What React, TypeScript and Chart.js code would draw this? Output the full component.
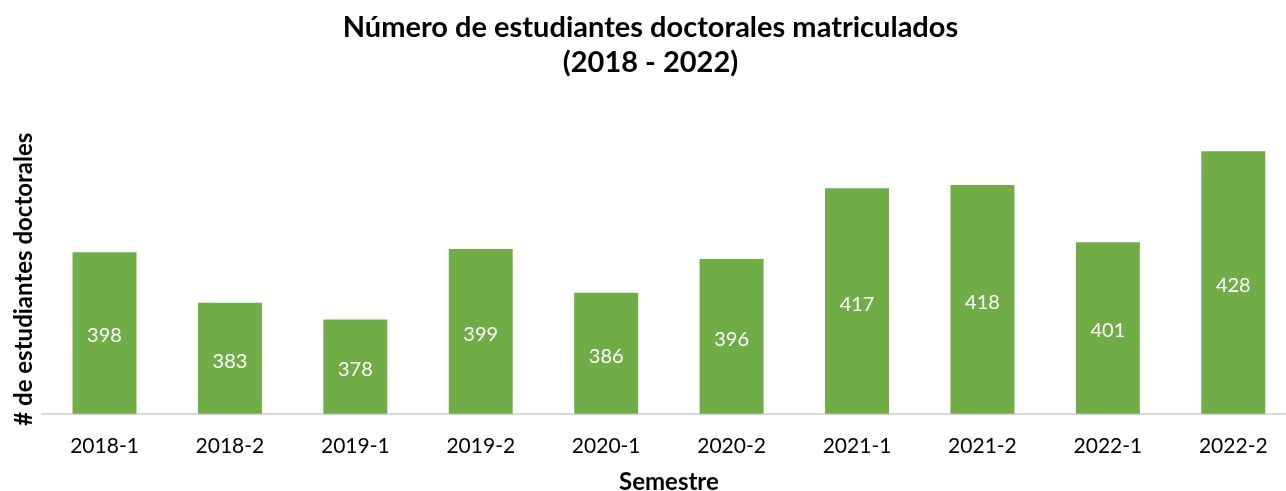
import React, { useEffect, useRef } from "react";
import { Chart, registerables } from "chart.js";

Chart.register(...registerables);

const categories = ["2018-1", "2018-2", "2019-1", "2019-2", "2020-1", "2020-2", "2021-1", "2021-2", "2022-1", "2022-2"];
const students = [398, 383, 378, 399, 386, 396, 417, 418, 401, 428];
const titleLines = ["Número de estudiantes doctorales matriculados", "(2018 - 2022)"];
const yTitle = "# de estudiantes doctorales";
const xTitle = "Semestre";
const Y_MIN = 350;
const Y_MAX = 430;

const FONT = "Lato, sans-serif";

const labelPlugin = {
  id: "barLabels",
  afterDraw(chart: any) {
    const ctx = chart.ctx;
    const meta = chart.getDatasetMeta(0);
    const yScale = chart.scales.y;
    const values = chart.data.datasets[0].data as number[];
    ctx.save();
    ctx.fillStyle = "#ffffff";
    ctx.font = "20px " + FONT;
    ctx.textAlign = "center";
    ctx.textBaseline = "middle";
    for (let i = 0; i < values.length; i++) {
      const el = meta.data[i];
      const x = el ? el.x : chart.scales.x.getPixelForValue(i);
      const top = yScale.getPixelForValue(values[i]);
      const base = yScale.getPixelForValue(Y_MIN);
      ctx.fillText(String(values[i]), x, (top + base) / 2 + 3);
    }
    ctx.restore();
  },
};

export default function App() {
  const ref = useRef<HTMLCanvasElement | null>(null);
  useEffect(() => {
    document.body.style.margin = "0";
    document.body.style.overflow = "hidden";
    if (!ref.current) return;
    const chart = new Chart(ref.current, {
      type: "bar",
      data: {
        labels: categories,
        datasets: [
          {
            data: students,
            backgroundColor: "#70AD47",
            barPercentage: 0.51,
            categoryPercentage: 1,
          },
        ],
      },
      options: {
        animation: false,
        responsive: false,
        maintainAspectRatio: false,
        layout: { padding: { left: 5, right: 4, top: 0, bottom: 0 } },
        plugins: {
          legend: { display: false },
          tooltip: { enabled: false },
          title: {
            display: true,
            text: titleLines,
            color: "#000000",
            font: { family: FONT, size: 29, weight: "bold", lineHeight: 1.2 },
            padding: { top: 10, bottom: 65 },
          },
        },
        scales: {
          x: {
            grid: { display: false, drawTicks: false },
            border: { display: true, color: "#d9d9d9", width: 2 },
            ticks: { color: "#000000", font: { family: FONT, size: 21 }, padding: 20 },
            title: {
              display: true,
              text: xTitle,
              color: "#000000",
              font: { family: FONT, size: 24, weight: "bold", lineHeight: 1 },
              padding: { top: -9, bottom: -3 },
            },
          },
          y: {
            min: Y_MIN,
            max: Y_MAX,
            grid: { display: false, drawTicks: false },
            border: { display: false },
            ticks: { display: false },
            title: {
              display: true,
              text: yTitle,
              color: "#000000",
              font: { family: FONT, size: 24, weight: "bold", lineHeight: 1.2 },
              padding: { top: 5, bottom: 3 },
            },
          },
        },
      },
      plugins: [labelPlugin],
    });
    return () => chart.destroy();
  }, []);
  return (
    <div style={{ width: 1300, height: 491, overflow: "hidden" }}>
      <canvas ref={ref} width={1300} height={491} style={{ display: "block" }} />
    </div>
  );
}
